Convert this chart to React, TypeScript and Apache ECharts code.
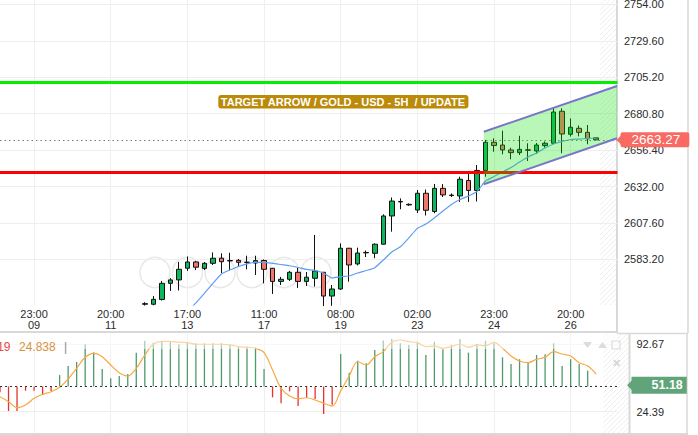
import React, { useEffect, useRef } from 'react';
import * as echarts from 'echarts';

// ---- axis ticks / labels ----
const tickIndex = [4, 13, 22, 31, 40, 49, 58, 67];
const tickLabels = ['23:00\n09', '20:00\n11', '17:00\n13', '11:00\n17', '08:00\n19', '02:00\n23', '23:00\n24', '20:00\n26'];
const priceTicks = [2583.2, 2607.6, 2632.0, 2656.4, 2680.8, 2705.2, 2729.6, 2754.0];
const oscTicks = [24.39, 92.67];

// ---- candles (index 17 .. 70) ----
const candleStart = 17;
const opens = [2553.2, 2553.2, 2556.4, 2567.2, 2569.5, 2577.3, 2581.5, 2577.2, 2580.6, 2584.0, 2582.5, 2582.6, 2581.4, 2580.8, 2582.5, 2577.3, 2568.5, 2569.9, 2574.6, 2568.5, 2570.6, 2574.6, 2558.7, 2563.4, 2590.7, 2580.2, 2587.9, 2587.3, 2593.4, 2612.3, 2622.0, 2620.1, 2616.3, 2627.5, 2615.3, 2630.8, 2626.3, 2625.7, 2636.1, 2629.4, 2642.8, 2661.6, 2659.8, 2656.5, 2654.7, 2656.6, 2655.8, 2659.4, 2661.0, 2682.4, 2667.0, 2671.0, 2668.3, 2664.6];
const closes = [2553.6, 2556.5, 2567.2, 2569.5, 2576.6, 2581.5, 2578.0, 2580.6, 2584.0, 2581.7, 2582.2, 2581.3, 2581.2, 2582.4, 2576.6, 2568.5, 2569.9, 2574.6, 2568.5, 2571.3, 2575.5, 2558.7, 2563.4, 2590.7, 2579.5, 2587.5, 2587.6, 2593.4, 2612.3, 2622.3, 2621.7, 2619.7, 2627.5, 2616.1, 2630.8, 2626.4, 2626.0, 2636.9, 2629.4, 2642.8, 2661.6, 2659.5, 2656.5, 2654.7, 2656.9, 2656.3, 2659.8, 2661.0, 2681.9, 2667.2, 2671.7, 2668.3, 2664.0, 2663.27];
const lows = [2552.3, 2552.5, 2555.7, 2562.1, 2562.4, 2575.5, 2576.1, 2576.1, 2579.5, 2574.1, 2576.1, 2578.4, 2576.6, 2572.8, 2567.2, 2560.1, 2566.1, 2568.8, 2564.1, 2565.4, 2565.0, 2552.0, 2552.2, 2562.8, 2568.3, 2579.2, 2584.8, 2584.0, 2593.2, 2601.8, 2616.8, 2619.1, 2614.3, 2612.6, 2614.1, 2625.0, 2625.0, 2621.7, 2621.7, 2622.0, 2638.6, 2655.3, 2653.6, 2650.3, 2653.1, 2649.1, 2653.8, 2658.1, 2660.8, 2654.3, 2665.5, 2665.6, 2660.3, 2662.9];
const highs = [2554.6, 2558.7, 2568.8, 2570.6, 2581.5, 2585.2, 2582.2, 2581.5, 2587.9, 2587.3, 2587.7, 2583.5, 2585.7, 2585.7, 2583.2, 2577.5, 2571.5, 2575.5, 2577.5, 2574.8, 2599.6, 2574.8, 2566.1, 2594.0, 2590.9, 2591.1, 2589.2, 2594.0, 2613.4, 2624.7, 2624.1, 2620.7, 2629.7, 2630.0, 2633.7, 2633.7, 2627.4, 2638.6, 2641.1, 2646.4, 2663.2, 2664.3, 2669.4, 2658.0, 2666.0, 2661.0, 2661.2, 2662.2, 2684.4, 2684.4, 2677.6, 2672.9, 2673.2, 2664.9];

// ---- moving average (index 22 .. 70) ----
const maStart = 22;
const maValues = [2548.0, 2554.1, 2560.5, 2567.2, 2573.5, 2576.1, 2578.5, 2580.2, 2581.2, 2581.2, 2580.6, 2579.8, 2579.0, 2577.8, 2576.5, 2575.8, 2574.1, 2570.8, 2571.7, 2572.1, 2574.1, 2575.8, 2577.7, 2582.8, 2588.2, 2591.7, 2597.6, 2604.0, 2606.9, 2611.0, 2615.6, 2620.0, 2623.3, 2625.7, 2628.7, 2635.7, 2638.7, 2641.7, 2644.8, 2648.4, 2651.8, 2654.5, 2657.8, 2660.5, 2662.2, 2663.5, 2663.8, 2664.2, 2664.5];

// ---- oscillator (index 0 .. 70) ----
const oscValues = [44.0, 25.1, 25.1, 45.6, 45.6, 41.3, 45.3, 61.5, 70.7, 74.7, 92.7, 84.5, 67.6, 58.2, 60.5, 62.5, 84.2, 96.3, 94.3, 96.3, 96.0, 92.7, 95.0, 93.7, 93.7, 93.7, 93.7, 92.0, 91.0, 90.3, 89.6, 67.6, 38.9, 32.9, 45.0, 30.1, 38.5, 37.2, 22.0, 31.5, 82.8, 63.9, 76.0, 73.4, 86.9, 96.5, 98.0, 93.7, 92.0, 95.3, 81.8, 95.3, 87.6, 92.0, 98.0, 84.2, 92.9, 96.3, 93.7, 79.5, 72.7, 77.5, 74.0, 81.8, 82.5, 93.7, 70.7, 77.5, 72.7, 65.9, 50.8];
const oscSignal = [39.6, 34.5, 28.5, 31.2, 37.9, 42.0, 44.6, 49.1, 57.5, 68.3, 79.5, 83.5, 80.1, 71.7, 63.9, 60.5, 68.3, 81.8, 92.7, 95.7, 95.7, 94.7, 94.4, 92.7, 92.7, 92.7, 92.7, 92.0, 90.3, 89.6, 88.6, 84.2, 66.6, 48.1, 40.3, 37.5, 38.5, 36.2, 32.9, 30.1, 45.5, 60.5, 75.0, 71.7, 80.1, 85.2, 94.7, 97.0, 95.3, 94.3, 90.3, 91.0, 88.6, 90.3, 92.7, 89.6, 92.0, 91.0, 94.7, 88.6, 80.8, 75.7, 74.0, 77.5, 79.5, 85.2, 82.8, 80.8, 74.0, 70.7, 62.5];

// ---- levels / annotations ----
const targetLevel = 2701.8;
const supportLevel = 2641.9;
const lastPrice = 2663.27;
const oscLast = 51.18;
const oscMid = 50;
const oscFadeFrom = 88;
const channelX = [56.8, 72.45];
const channelUpper = [2668.7, 2699.3];
const channelLower = [2633.5, 2664.3];
const titleText = 'TARGET ARROW / GOLD - USD - 5H  / UPDATE';

const FONT = "'Liberation Sans', Arial, sans-serif";
const X_MIN = 0;
const X_MAX = 72.5;

function hatch(x0: number, y0: number, w: number, h: number, step: number) {
  const out: any[] = [];
  for (let c = step; c < h + w; c += step) {
    const t1 = Math.max(0, c - h);
    const t2 = Math.min(w, c);
    if (t2 <= t1) continue;
    out.push({
      type: 'line', silent: true,
      shape: { x1: x0 + t1, y1: y0 + c - t1, x2: x0 + t2, y2: y0 + c - t2 },
      style: { stroke: '#efefef', lineWidth: 1 },
    });
  }
  return out;
}

export default function App() {
  const ref = useRef<HTMLDivElement>(null);

  useEffect(() => {
    document.body.style.margin = '0';
    if (!ref.current) return;
    const chart = echarts.init(ref.current, null, { renderer: 'svg' });

    const candleData = opens.map((o, k) => [candleStart + k, o, closes[k], lows[k], highs[k]]);
    const maData = maValues.map((v, k) => [maStart + k, v]);
    const oscData = oscValues.map((v, i) => [i, v]);
    const sigData = oscSignal.map((v, i) => [i, v]);

    const border = '#d9d9d9';
    const graphics: any[] = [
      ...hatch(600, 0, 17, 305, 5),
      ...hatch(603, 333, 26, 100, 5),
      // frame lines
      { type: 'line', shape: { x1: 0, y1: 332, x2: 617, y2: 332 }, style: { stroke: border, lineWidth: 2 } },
      { type: 'line', shape: { x1: 617, y1: 0, x2: 617, y2: 333 }, style: { stroke: border, lineWidth: 2 } },
      { type: 'line', shape: { x1: 688, y1: 0, x2: 688, y2: 333 }, style: { stroke: border, lineWidth: 1.5 } },
      { type: 'line', shape: { x1: 629.5, y1: 333, x2: 629.5, y2: 435 }, style: { stroke: border, lineWidth: 2 } },
      { type: 'line', shape: { x1: 687, y1: 333, x2: 687, y2: 435 }, style: { stroke: border, lineWidth: 1.5 } },
      { type: 'line', shape: { x1: 617, y1: 333.5, x2: 688, y2: 333.5 }, style: { stroke: border, lineWidth: 1.5 } },
      { type: 'line', shape: { x1: 0, y1: 434, x2: 688, y2: 434 }, style: { stroke: border, lineWidth: 2 } },
      // faint navigation buttons
      ...[155, 187.5, 220, 252, 284, 316].map((cx) => ({
        type: 'circle', silent: true, shape: { cx, cy: 272.5, r: 15 },
        style: { fill: 'rgba(255,255,255,0)', stroke: '#e8e8e8', lineWidth: 1.5 },
      })),
      // lower panel icons
      { type: 'polygon', shape: { points: [[583, 342], [592, 342], [587.5, 348]] }, style: { fill: '#dcdcdc' }, z: 50 },
      { type: 'polygon', shape: { points: [[598, 348], [607, 348], [602.5, 342]] }, style: { fill: '#dcdcdc' }, z: 50 },
      { type: 'rect', shape: { x: 612, y: 341, width: 8, height: 8 }, style: { fill: 'none', stroke: '#dcdcdc', lineWidth: 1.2 }, z: 50 },
      { type: 'text', x: 616, y: 363, style: { text: '✕', fill: '#d6d6d6', font: `bold 11px ${FONT}`, align: 'center', verticalAlign: 'middle' }, z: 50 },
      // lower panel legend texts
      { type: 'text', x: 10.5, y: 346.7, style: { text: '51.19', fill: '#e84a3f', font: `12px ${FONT}`, align: 'right', verticalAlign: 'middle' }, z: 100 },
      { type: 'text', x: 19, y: 346.7, style: { text: '24.838', fill: '#d8923a', font: `12px ${FONT}`, align: 'left', verticalAlign: 'middle' }, z: 100 },
      { type: 'text', x: 65.5, y: 346.7, style: { text: '|', fill: '#888', font: `12px ${FONT}`, align: 'center', verticalAlign: 'middle' }, z: 100 },
      // title annotation
      {
        type: 'text', x: 218.3, y: 95, z: 100,
        style: {
          text: titleText, fill: '#ffffff', font: `bold 11px ${FONT}`, lineHeight: 11.5,
          backgroundColor: '#bb8a08', padding: [1, 3, 1, 2.5], borderRadius: 3,
        },
      },
      // notches
      { type: 'polygon', shape: { points: [[616.5, 139.9], [621, 135.4], [621, 144.4]] }, style: { fill: '#f96a62' }, z: 100 },
      { type: 'polygon', shape: { points: [[627, 385.2], [632, 380.2], [632, 390.2]] }, style: { fill: '#62a47a' }, z: 100 },
    ];

    const axisText = { color: '#2b2b2b', fontSize: 11, fontFamily: FONT };

    chart.setOption({
      animation: false,
      backgroundColor: '#ffffff',
      grid: [
        { left: 0, width: 617.5, top: 0, height: 305, outerBoundsMode: 'none', containLabel: false },
        { left: 0, width: 617.5, top: 333, height: 100, outerBoundsMode: 'none', containLabel: false },
      ],
      xAxis: [
        {
          type: 'value', gridIndex: 0, min: X_MIN, max: X_MAX,
          axisLine: { show: false },
          axisTick: { show: false, customValues: tickIndex },
          axisLabel: {
            ...axisText, customValues: tickIndex, margin: 3, lineHeight: 11,
            formatter: (v: number) => tickLabels[tickIndex.indexOf(Math.round(v))] ?? '',
          },
          splitLine: { show: true, lineStyle: { color: '#efefef', width: 1 } },
        },
        {
          type: 'value', gridIndex: 1, min: X_MIN, max: X_MAX,
          axisLine: { show: false },
          axisTick: { show: false, customValues: tickIndex },
          axisLabel: { show: false, customValues: tickIndex },
          splitLine: { show: true, lineStyle: { color: '#efefef', width: 1 } },
        },
      ],
      yAxis: [
        {
          type: 'value', gridIndex: 0, position: 'right', min: 2552.7, max: 2756.9,
          axisLine: { show: false },
          axisTick: { show: false, customValues: priceTicks },
          axisLabel: { ...axisText, customValues: priceTicks, margin: 6.5, formatter: (v: number) => v.toFixed(2) },
          splitLine: { show: true, lineStyle: { color: '#eeeeee', width: 1 } },
        },
        {
          type: 'value', gridIndex: 1, position: 'right', min: 2.8, max: 104.1,
          axisLine: { show: false },
          axisTick: { show: false, customValues: oscTicks },
          axisLabel: { ...axisText, customValues: oscTicks, margin: 19, formatter: (v: number) => v.toFixed(2) },
          splitLine: { show: true, lineStyle: { color: '#eeeeee', width: 1 } },
        },
      ],
      graphic: { elements: graphics },
      series: [
        {
          type: 'candlestick', xAxisIndex: 0, yAxisIndex: 0, z: 3,
          data: candleData, encode: { x: 0, y: [1, 2, 3, 4] },
          barWidth: 5, clip: true,
          itemStyle: {
            color: '#0bb65c', color0: '#f2756a',
            borderColor: '#111111', borderColor0: '#111111', borderColorDoji: '#111111', borderWidth: 1,
          },
          markLine: {
            silent: true, symbol: 'none', animation: false,
            label: { show: false },
            data: [
              { yAxis: targetLevel, lineStyle: { color: '#00f000', width: 3, type: 'solid' } },
              { yAxis: supportLevel, lineStyle: { color: '#ff0000', width: 3, type: 'solid' } },
              {
                yAxis: lastPrice, lineStyle: { color: '#777777', width: 1, type: [1.5, 3] },
                label: {
                  show: true, position: 'end', distance: 3, formatter: lastPrice.toFixed(2),
                  color: '#ffffff', fontSize: 13.5, fontFamily: FONT, lineHeight: 13,
                  backgroundColor: '#f96a62', padding: [1, 9, 1, 11], borderRadius: 2,
                },
              },
            ],
          },
        },
        {
          type: 'line', xAxisIndex: 0, yAxisIndex: 0, z: 4, data: maData,
          showSymbol: false, symbol: 'none', smooth: 0.2, clip: true,
          lineStyle: { color: '#5e9ef2', width: 1.2 },
        },
        {
          type: 'custom', xAxisIndex: 0, yAxisIndex: 0, z: 10,
          data: [[channelX[0], channelUpper[0]]], encode: { x: 0, y: 1 },
          renderItem: (_p: any, api: any) => {
            const u0 = api.coord([channelX[0], channelUpper[0]]);
            const u1 = api.coord([channelX[1], channelUpper[1]]);
            const l0 = api.coord([channelX[0], channelLower[0]]);
            const l1 = api.coord([channelX[1], channelLower[1]]);
            return {
              type: 'group',
              children: [
                { type: 'polygon', shape: { points: [u0, u1, l1, l0] }, style: { fill: 'rgba(20,230,20,0.3)' } },
                { type: 'line', shape: { x1: u0[0], y1: u0[1], x2: u1[0], y2: u1[1] }, style: { stroke: '#7776c8', lineWidth: 2 } },
                { type: 'line', shape: { x1: l0[0], y1: l0[1], x2: l1[0], y2: l1[1] }, style: { stroke: '#7776c8', lineWidth: 2 } },
              ],
            };
          },
        },
        {
          type: 'custom', xAxisIndex: 1, yAxisIndex: 1, z: 3,
          data: oscData, encode: { x: 0, y: 1 },
          renderItem: (_p: any, api: any) => {
            const x = api.value(0);
            const v = api.value(1);
            const a = api.coord([x, oscMid]);
            const b = api.coord([x, v]);
            return {
              type: 'line',
              shape: { x1: a[0], y1: a[1], x2: b[0], y2: b[1] },
              style: { stroke: v >= oscMid ? '#4f9a6c' : '#e8312c', lineWidth: 1.3 },
            };
          },
        },
        {
          type: 'line', xAxisIndex: 1, yAxisIndex: 1, z: 4, data: sigData,
          showSymbol: false, symbol: 'none', smooth: 0.35,
          lineStyle: { color: '#f7a83f', width: 1.2 },
          markLine: {
            silent: true, symbol: 'none', animation: false,
            data: [
              { yAxis: oscMid, lineStyle: { color: '#333333', width: 1, type: [2, 3] }, label: { show: false } },
              {
                yAxis: oscLast, lineStyle: { color: 'rgba(0,0,0,0)', width: 1, type: 'solid' },
                label: {
                  show: true, position: 'end', distance: 14, formatter: oscLast.toFixed(2),
                  color: '#ffffff', fontSize: 12.5, fontWeight: 'bold', fontFamily: FONT, lineHeight: 13,
                  backgroundColor: '#62a47a', padding: [2, 4, 2, 20],
                },
              },
            ],
          },
        },
        {
          type: 'custom', xAxisIndex: 1, yAxisIndex: 1, z: 6, silent: true,
          data: [[X_MIN, oscFadeFrom]], encode: { x: 0, y: 1 },
          renderItem: (_p: any, api: any) => {
            const a = api.coord([X_MIN, 104.1]);
            const b = api.coord([X_MAX, oscFadeFrom]);
            return {
              type: 'rect',
              shape: { x: a[0], y: a[1], width: b[0] - a[0], height: b[1] - a[1] },
              style: { fill: 'rgba(255,255,255,0.5)' },
            };
          },
        },
      ],
    });

    return () => chart.dispose();
  }, []);

  return <div ref={ref} style={{ width: 698, height: 435 }} />;
}
